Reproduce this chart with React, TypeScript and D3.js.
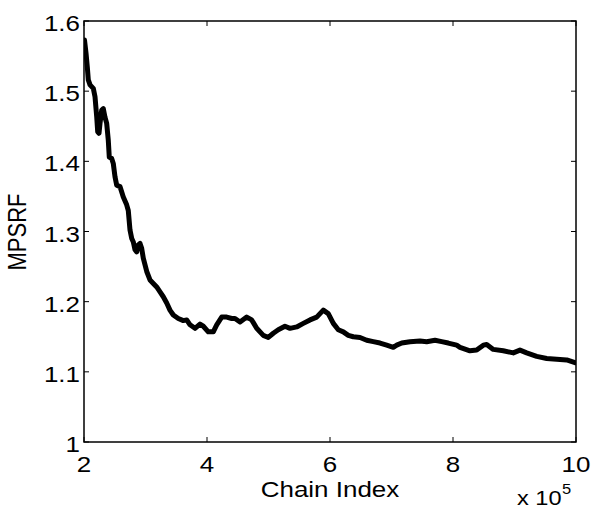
import React from "react";
import * as d3 from "d3";

// Chain index in units of 1e5
const chainIndex = [
  2.008, 2.033, 2.054, 2.070, 2.098, 2.151, 2.179, 2.207, 2.223, 2.244, 2.260, 2.288, 2.314, 2.341,
  2.369, 2.395, 2.411, 2.450, 2.476, 2.504, 2.532, 2.585, 2.639, 2.694, 2.720, 2.748, 2.776, 2.802,
  2.829, 2.857, 2.883, 2.911, 2.938, 2.964, 3.020, 3.073, 3.127, 3.182, 3.236, 3.289, 3.345, 3.398,
  3.452, 3.533, 3.615, 3.670, 3.724, 3.805, 3.886, 3.940, 4.021, 4.102, 4.158, 4.239, 4.320, 4.402,
  4.455, 4.537, 4.646, 4.727, 4.808, 4.915, 4.997, 5.078, 5.159, 5.268, 5.350, 5.459, 5.566, 5.675,
  5.784, 5.891, 5.972, 6.054, 6.135, 6.216, 6.298, 6.379, 6.488, 6.597, 6.704, 6.813, 6.922, 7.029,
  7.085, 7.166, 7.301, 7.463, 7.572, 7.707, 7.816, 7.923, 8.060, 8.114, 8.276, 8.385, 8.493, 8.548,
  8.655, 8.818, 8.980, 9.089, 9.198, 9.361, 9.524, 9.686, 9.849, 9.984,
];
const mpsrf = [
  1.573, 1.554, 1.534, 1.516, 1.509, 1.504, 1.492, 1.463, 1.442, 1.440, 1.454, 1.473, 1.475, 1.463,
  1.454, 1.430, 1.406, 1.404, 1.397, 1.378, 1.366, 1.364, 1.349, 1.338, 1.330, 1.302, 1.290, 1.285,
  1.274, 1.271, 1.281, 1.283, 1.276, 1.262, 1.243, 1.231, 1.226, 1.221, 1.214, 1.207, 1.198, 1.188,
  1.181, 1.176, 1.173, 1.174, 1.167, 1.162, 1.168, 1.165, 1.157, 1.157, 1.167, 1.178, 1.178, 1.176,
  1.176, 1.171, 1.178, 1.174, 1.162, 1.152, 1.149, 1.155, 1.160, 1.165, 1.162, 1.164, 1.169, 1.174,
  1.178, 1.188, 1.183, 1.169, 1.160, 1.157, 1.152, 1.150, 1.149, 1.145, 1.143, 1.141, 1.138, 1.135,
  1.138, 1.141, 1.143, 1.144, 1.143, 1.145, 1.143, 1.141, 1.138, 1.135, 1.130, 1.131, 1.138, 1.139,
  1.132, 1.130, 1.127, 1.131, 1.127, 1.122, 1.119, 1.118, 1.117, 1.113,
];
const xTicks = [2, 4, 6, 8, 10];
const yTicks = [1, 1.1, 1.2, 1.3, 1.4, 1.5, 1.6];
const yTickLabels = ["1", "1.1", "1.2", "1.3", "1.4", "1.5", "1.6"];
const xLabel = "Chain Index";
const yLabel = "MPSRF";

const W = 592;
const H = 510;
const L = 84;
const R = 576;
const T = 21;
const B = 442;
const SX = 1.18; // horizontal stretch of text in the reference
const FONT = "'Liberation Sans', Arial, Helvetica, sans-serif";

export default function App() {
  const x = d3.scaleLinear().domain([2, 10]).range([L, R]);
  const y = d3.scaleLinear().domain([1, 1.6]).range([B, T]);
  const pts: [number, number][] = chainIndex.map((c, i) => [c, mpsrf[i]]);
  const line = d3
    .line<[number, number]>()
    .x((d) => x(d[0]))
    .y((d) => y(d[1]));
  const tl = 5;
  return (
    <svg
      width={W}
      height={H}
      style={{ position: "absolute", left: 0, top: 0, background: "#fff" }}
      fontFamily={FONT}
    >
      <rect x={0} y={0} width={W} height={H} fill="#fff" />
      <defs>
        <clipPath id="plot">
          <rect x={L} y={T} width={R - L} height={B - T} />
        </clipPath>
      </defs>
      {/* ticks */}
      {xTicks.map((t) => (
        <g key={"xt" + t} stroke="#000" strokeWidth={1}>
          <line x1={x(t)} x2={x(t)} y1={B} y2={B - tl} />
          <line x1={x(t)} x2={x(t)} y1={T} y2={T + tl} />
        </g>
      ))}
      {yTicks.map((t) => (
        <g key={"yt" + t} stroke="#000" strokeWidth={1}>
          <line x1={L} x2={L + tl} y1={y(t)} y2={y(t)} />
          <line x1={R} x2={R - tl} y1={y(t)} y2={y(t)} />
        </g>
      ))}
      <path
        d={line(pts) || ""}
        fill="none"
        stroke="#000"
        strokeWidth={5}
        strokeLinejoin="round"
        strokeLinecap="round"
        clipPath="url(#plot)"
      />
      <rect x={L} y={T} width={R - L} height={B - T} fill="none" stroke="#000" strokeWidth={1.5} />
      {/* tick labels */}
      {yTicks.map((t, i) => (
        <text
          key={"yl" + t}
          transform={`translate(${L - 4},${y(t) + 10}) scale(${SX},1)`}
          textAnchor="end"
          fontSize={22}
          fill="#000"
        >
          {yTickLabels[i]}
        </text>
      ))}
      {xTicks.map((t) => (
        <text
          key={"xl" + t}
          transform={`translate(${x(t)},${B + 30}) scale(${SX},1)`}
          textAnchor="middle"
          fontSize={22}
          fill="#000"
        >
          {t}
        </text>
      ))}
      <text
        transform={`translate(${(L + R) / 2},${497}) scale(${SX},1)`}
        textAnchor="middle"
        fontSize={22}
        fill="#000"
      >
        {xLabel}
      </text>
      <text
        transform={`translate(${18 + 8},${232}) scale(${SX},1) rotate(-90)`}
        textAnchor="middle"
        fontSize={22}
        fill="#000"
      >
        {yLabel}
      </text>
      <text transform={`translate(${517},${505}) scale(${SX},1)`} fontSize={20} fill="#000">
        x 10
      </text>
      <text transform={`translate(${562},${494}) scale(${SX},1)`} fontSize={14} fill="#000">
        5
      </text>
    </svg>
  );
}
